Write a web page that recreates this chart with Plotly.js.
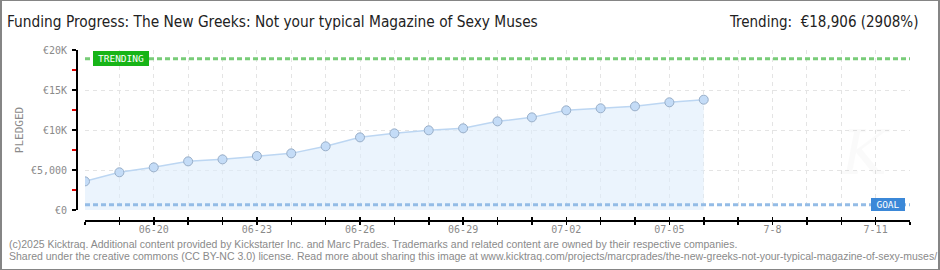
<!DOCTYPE html>
<html>
<head>
<meta charset="utf-8">
<script src="https://cdn.plot.ly/plotly-3.0.1.min.js"></script>
<style>
html,body{margin:0;padding:0;background:#fff;}
#wrap{width:936px;height:268px;border-style:solid;border-color:#858585;border-width:1px 2px 1px 2px;overflow:hidden;position:relative;}
#chart{position:absolute;left:-2px;top:-1px;width:940px;height:270px;}
</style>
</head>
<body>
<div id="wrap"><div id="chart"></div></div>
<script>
// ---- data ----
const dates = ['2025-06-18','2025-06-19','2025-06-20','2025-06-21','2025-06-22','2025-06-23','2025-06-24',
  '2025-06-25','2025-06-26','2025-06-27','2025-06-28','2025-06-29','2025-06-30','2025-07-01',
  '2025-07-02','2025-07-03','2025-07-04','2025-07-05','2025-07-06'];
const pledged = [3580, 4710, 5330, 6080, 6330, 6750, 7080, 7960, 9080, 9580, 9960, 10210,
  11080, 11580, 12460, 12710, 12960, 13460, 13790];
const xRange = ['2025-06-18', '2025-07-12'];
const trendingValue = 18906;
const goalValue = 650;
const xTickVals = ['2025-06-20','2025-06-23','2025-06-26','2025-06-29','2025-07-02','2025-07-05','2025-07-08','2025-07-11'];
const xTickText = ['06-20','06-23','06-26','06-29','07-02','07-05','7-8','7-11'];
const yTickVals = [0, 5000, 10000, 15000, 20000];
const yTickText = ['€0','€5,000','€10K','€15K','€20K'];
const titleText = 'Funding Progress: The New Greeks: Not your typical Magazine of Sexy Muses';
const trendingText = 'Trending:  €18,906 (2908%)';
const footer1 = '(c)2025 Kicktraq. Additional content provided by Kickstarter Inc. and Marc Prades. Trademarks and related content are owned by their respective companies.';
const footer2 = 'Shared under the creative commons (CC BY-NC 3.0) license. Read more about sharing this image at www.kicktraq.com/projects/marcprades/the-new-greeks-not-your-typical-magazine-of-sexy-muses/';

// ---- layout geometry ----
const W = 940, H = 270;
const L = 76, R = 30, T = 50, B = 50;
const plotW = W - L - R, plotH = H - T - B;
const xDomStart = 9 / plotW;
const yDomStart = 10 / plotH;
const px = v => (v - L) / plotW;           // pixel x -> paper
const py = v => (H - B - v) / plotH;       // pixel y -> paper

const pixFont = 'DejaVu Sans Mono, monospace';
const grey = '#8a8a8a';

const traces = [
  {
    x: dates, y: pledged, type: 'scatter', mode: 'lines+markers',
    fill: 'tozeroy', fillcolor: 'rgba(222,236,251,0.6)',
    line: {color: '#bcd6f2', width: 1.5},
    marker: {size: 9, color: '#c4dcf7', line: {color: '#98aec8', width: 1}},
    hoverinfo: 'skip', showlegend: false
  },
  {
    x: xRange, y: [trendingValue, trendingValue], type: 'scatter', mode: 'lines',
    line: {color: '#78cc78', width: 3, dash: '5px,3px'},
    hoverinfo: 'skip', showlegend: false
  },
  {
    x: xRange, y: [goalValue, goalValue], type: 'scatter', mode: 'lines',
    line: {color: '#94bce6', width: 3, dash: '5px,3px'},
    hoverinfo: 'skip', showlegend: false
  },
  { // invisible trace to bind the second x axis (inside ticks)
    x: xRange, y: [0, 0], xaxis: 'x2', type: 'scatter', mode: 'lines',
    line: {width: 0}, hoverinfo: 'skip', showlegend: false
  }
];

const layout = {
  width: W, height: H,
  margin: {l: L, r: R, t: T, b: B, pad: 0},
  paper_bgcolor: '#ffffff', plot_bgcolor: 'rgba(0,0,0,0)',
  title: {
    text: titleText, xref: 'container', yref: 'container',
    x: 7 / W, xanchor: 'left', y: 1 - 22 / H, yanchor: 'middle',
    font: {family: 'DejaVu Sans Condensed, DejaVu Sans', size: 15.3, color: '#222'}
  },
  xaxis: {
    type: 'date', range: xRange, domain: [xDomStart, 1],
    anchor: 'free', position: 0,
    showline: true, linecolor: '#000', linewidth: 1.5,
    tickmode: 'array', tickvals: xTickVals, ticktext: xTickText,
    ticks: 'outside', ticklen: 3, tickwidth: 1.5, tickcolor: '#000',
    tickfont: {family: pixFont, size: 10, color: grey},
    ticklabelstandoff: -4,
    showgrid: true, gridcolor: '#e4e4e4', griddash: '4px,4px', gridwidth: 1,
    minor: {dtick: 86400000, tick0: '2025-06-18', ticks: 'outside', ticklen: 3, tickwidth: 1.5, tickcolor: '#000',
            showgrid: true, gridcolor: '#e4e4e4', griddash: '4px,4px', gridwidth: 1},
    zeroline: false, fixedrange: true
  },
  xaxis2: {
    type: 'date', range: xRange, domain: [xDomStart, 1],
    overlaying: 'x', anchor: 'free', position: 0,
    showline: false, showgrid: false, showticklabels: false,
    tickmode: 'linear', tick0: '2025-06-18', dtick: 86400000,
    ticks: 'inside', ticklen: 3, tickwidth: 1.5, tickcolor: '#000'
  },
  yaxis: {
    range: [0, 20000], domain: [yDomStart, 1],
    anchor: 'free', position: 0,
    showline: true, linecolor: '#000', linewidth: 1.5,
    tickmode: 'array', tickvals: yTickVals, ticktext: yTickText,
    ticks: 'outside', ticklen: 4, tickwidth: 1.5, tickcolor: '#000',
    tickfont: {family: pixFont, size: 10, color: grey},
    ticklabelstandoff: 3,
    showgrid: true, gridcolor: '#e4e4e4', griddash: '4px,4px', gridwidth: 1,
    minor: {dtick: 2500, tick0: 0, ticks: 'outside', ticklen: 4, tickwidth: 1.5, tickcolor: '#e00000', showgrid: false},
    zeroline: false, fixedrange: true,
    title: {text: 'PLEDGED', standoff: 3, font: {family: pixFont, size: 11, color: grey}}
  },
  annotations: [
    {
      text: trendingText, xref: 'paper', yref: 'paper',
      x: px(920), xanchor: 'right', y: py(22), yanchor: 'middle',
      showarrow: false,
      font: {family: 'DejaVu Sans Condensed, DejaVu Sans', size: 15, color: '#222'}
    },
    {
      text: 'TRENDING', xref: 'paper', yref: 'y',
      x: px(93), xanchor: 'left', y: trendingValue, yanchor: 'middle',
      showarrow: false, bgcolor: '#17b417', bordercolor: '#17b417', borderpad: 1,
      width: 52, height: 11,
      font: {family: pixFont, size: 9.5, color: '#ffffff'}
    },
    {
      text: 'GOAL', xref: 'paper', yref: 'y',
      x: px(905), xanchor: 'right', y: goalValue, yanchor: 'middle',
      showarrow: false, bgcolor: '#3b88d8', bordercolor: '#3b88d8', borderpad: 1,
      width: 30, height: 9,
      font: {family: pixFont, size: 9.5, color: '#ffffff'}
    },
    {
      text: '<i>K</i>', xref: 'paper', yref: 'paper',
      x: px(865), xanchor: 'center', y: py(152), yanchor: 'middle',
      showarrow: false,
      font: {family: 'DejaVu Serif', size: 62, color: 'rgba(0,0,0,0.02)'}
    },
    {
      text: footer1, xref: 'paper', yref: 'paper',
      x: px(7), xanchor: 'left', y: py(244), yanchor: 'middle',
      showarrow: false, font: {family: 'Liberation Sans, Arial', size: 10.5, color: grey}
    },
    {
      text: footer2, xref: 'paper', yref: 'paper',
      x: px(7), xanchor: 'left', y: py(256), yanchor: 'middle',
      showarrow: false, font: {family: 'Liberation Sans, Arial', size: 10.5, color: grey}
    }
  ]
};

Plotly.newPlot('chart', traces, layout, {displayModeBar: false, staticPlot: true});
</script>
</body>
</html>
